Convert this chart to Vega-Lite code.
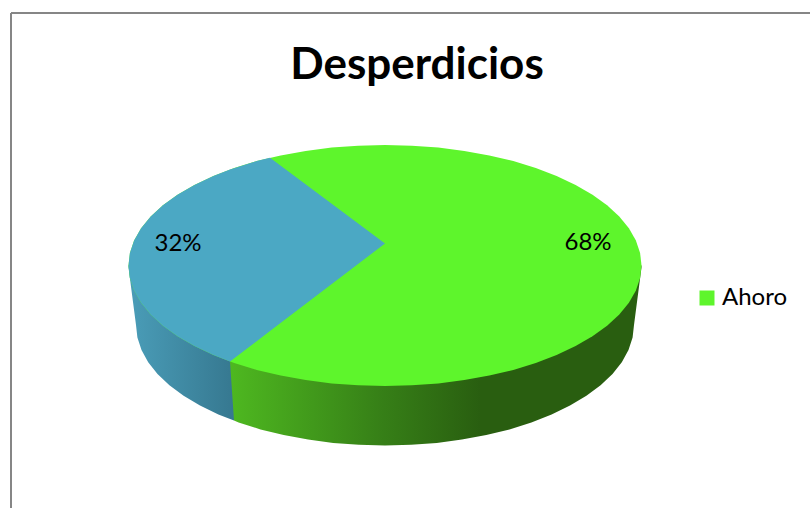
{
  "$schema": "https://vega.github.io/schema/vega-lite/v6.json",
  "width": 810,
  "height": 508,
  "padding": 0,
  "autosize": {"type": "none"},
  "background": "white",
  "view": {"stroke": null},
  "config": {"view": {"stroke": null}},
  "title": {
    "text": "Desperdicios",
    "font": "Lato",
    "fontSize": 44,
    "fontWeight": "bold",
    "color": "#000000",
    "anchor": "middle",
    "dx": 12,
    "baseline": "alphabetic",
    "offset": -123
  },
  "datasets": {
    "frame": [
      {"x": -374, "x2": -374, "y": 252.5, "y2": -242.5},
      {"x": -374, "x2": 425, "y": 252.5, "y2": 252.5}
    ],
    "wallBlue": [
      {"x": -256.5, "y": 0, "y2": -2},
      {"x": -249, "y": 0, "y2": -59.5},
      {"x": -247.6, "y": 0, "y2": -72.1},
      {"x": -243.5, "y": 0, "y2": -84.6},
      {"x": -236.8, "y": 0, "y2": -96.7},
      {"x": -227.5, "y": 0, "y2": -108.5},
      {"x": -215.6, "y": 0, "y2": -119.8},
      {"x": -201.4, "y": 0, "y2": -130.3},
      {"x": -185, "y": 0, "y2": -140.1},
      {"x": -166.6, "y": 0, "y2": -149},
      {"x": -151, "y": 0, "y2": -155}
    ],
    "wallGreen": [
      {"x": -155, "y": -96, "y2": -96},
      {"x": -151, "y": -90, "y2": -155},
      {"x": -146.4, "y": 0, "y2": -157},
      {"x": -124.5, "y": 0, "y2": -163.9},
      {"x": -101.3, "y": 0, "y2": -169.6},
      {"x": -76.9, "y": 0, "y2": -174.1},
      {"x": -51.8, "y": 0, "y2": -177.4},
      {"x": -26, "y": 0, "y2": -179.3},
      {"x": 0, "y": 0, "y2": -180},
      {"x": 26, "y": 0, "y2": -179.3},
      {"x": 51.8, "y": 0, "y2": -177.4},
      {"x": 76.9, "y": 0, "y2": -174.1},
      {"x": 101.3, "y": 0, "y2": -169.6},
      {"x": 124.5, "y": 0, "y2": -163.9},
      {"x": 146.4, "y": 0, "y2": -157},
      {"x": 166.6, "y": 0, "y2": -149},
      {"x": 185, "y": 0, "y2": -140.1},
      {"x": 201.4, "y": 0, "y2": -130.3},
      {"x": 215.6, "y": 0, "y2": -119.8},
      {"x": 227.5, "y": 0, "y2": -108.5},
      {"x": 236.8, "y": 0, "y2": -96.7},
      {"x": 243.5, "y": 0, "y2": -84.6},
      {"x": 247.6, "y": 0, "y2": -72.1},
      {"x": 249, "y": 0, "y2": -59.5},
      {"x": 256.5, "y": 0, "y2": -2}
    ],
    "disc": [
      {"x": -256.5, "y": 0, "y2": 0},
      {"x": -255.1, "y": 12.6, "y2": -12.6},
      {"x": -250.9, "y": 25.1, "y2": -25.1},
      {"x": -243.9, "y": 37.2, "y2": -37.2},
      {"x": -234.3, "y": 49, "y2": -49},
      {"x": -222.1, "y": 60.3, "y2": -60.3},
      {"x": -207.5, "y": 70.8, "y2": -70.8},
      {"x": -190.6, "y": 80.6, "y2": -80.6},
      {"x": -171.6, "y": 89.5, "y2": -89.5},
      {"x": -150.8, "y": 97.5, "y2": -97.5},
      {"x": -128.3, "y": 104.4, "y2": -104.4},
      {"x": -104.3, "y": 110.1, "y2": -110.1},
      {"x": -79.3, "y": 114.6, "y2": -114.6},
      {"x": -53.3, "y": 117.9, "y2": -117.9},
      {"x": -26.8, "y": 119.8, "y2": -119.8},
      {"x": 0, "y": 120.5, "y2": -120.5},
      {"x": 26.8, "y": 119.8, "y2": -119.8},
      {"x": 53.3, "y": 117.9, "y2": -117.9},
      {"x": 79.3, "y": 114.6, "y2": -114.6},
      {"x": 104.3, "y": 110.1, "y2": -110.1},
      {"x": 128.3, "y": 104.4, "y2": -104.4},
      {"x": 150.8, "y": 97.5, "y2": -97.5},
      {"x": 171.6, "y": 89.5, "y2": -89.5},
      {"x": 190.6, "y": 80.6, "y2": -80.6},
      {"x": 207.5, "y": 70.8, "y2": -70.8},
      {"x": 222.1, "y": 60.3, "y2": -60.3},
      {"x": 234.3, "y": 49, "y2": -49},
      {"x": 243.9, "y": 37.2, "y2": -37.2},
      {"x": 250.9, "y": 25.1, "y2": -25.1},
      {"x": 255.1, "y": 12.6, "y2": -12.6},
      {"x": 256.5, "y": 0, "y2": 0}
    ],
    "wedge": [
      {"x": -256.5, "y": 0, "y2": 0},
      {"x": -255.1, "y": 12.6, "y2": -12.6},
      {"x": -250.9, "y": 25.1, "y2": -25.1},
      {"x": -243.9, "y": 37.2, "y2": -37.2},
      {"x": -234.3, "y": 49, "y2": -49},
      {"x": -222.1, "y": 60.3, "y2": -60.3},
      {"x": -207.5, "y": 70.8, "y2": -70.8},
      {"x": -190.6, "y": 80.6, "y2": -80.6},
      {"x": -171.6, "y": 89.5, "y2": -89.5},
      {"x": -155, "y": 96, "y2": -96},
      {"x": -128.3, "y": 104.4, "y2": -75.7},
      {"x": -115, "y": 107.7, "y2": -65.5},
      {"x": 0, "y": 22, "y2": 22}
    ],
    "shares": [
      {"share": 0.32, "x": -207, "y": 14.5},
      {"share": 0.68, "x": 203, "y": 15.5}
    ]
  },
  "encoding": {
    "x": {"field": "x", "type": "quantitative", "axis": null, "scale": {"domain": [-385, 425], "nice": false, "zero": false}},
    "y": {"field": "y", "type": "quantitative", "axis": null, "scale": {"domain": [-242.5, 265.5], "nice": false, "zero": false}}
  },
  "layer": [
    {
      "data": {"name": "frame"},
      "mark": {"type": "rule", "color": "#868686", "strokeWidth": 2},
      "encoding": {"x2": {"field": "x2"}, "y2": {"field": "y2"}}
    },
    {
      "data": {"name": "wallBlue"},
      "mark": {
        "type": "area",
        "color": {
          "gradient": "linear",
          "x1": 0, "y1": 0, "x2": 1, "y2": 0,
          "stops": [
            {"offset": 0, "color": "#4a9db8"},
            {"offset": 1, "color": "#367890"}
          ]
        }
      },
      "encoding": {"y2": {"field": "y2"}}
    },
    {
      "data": {"name": "wallGreen"},
      "mark": {
        "type": "area",
        "color": {
          "gradient": "linear",
          "x1": 0, "y1": 0, "x2": 1, "y2": 0,
          "stops": [
            {"offset": 0, "color": "#4eb820"},
            {"offset": 0.37, "color": "#367f17"},
            {"offset": 0.61, "color": "#295e10"},
            {"offset": 1, "color": "#295e10"}
          ]
        }
      },
      "encoding": {"y2": {"field": "y2"}}
    },
    {
      "data": {"name": "disc"},
      "mark": {"type": "area"},
      "encoding": {
        "y2": {"field": "y2"},
        "color": {
          "datum": "Ahoro",
          "scale": {"domain": ["Ahoro"], "range": ["#5ef52c"]},
          "legend": {
            "title": null,
            "orient": "none",
            "legendX": 695,
            "legendY": 286,
            "symbolType": "square",
            "symbolSize": 225,
            "symbolStrokeWidth": 0,
            "labelFont": "Lato",
            "labelFontSize": 24,
            "labelColor": "#000000",
            "labelOffset": 3
          }
        }
      }
    },
    {
      "data": {"name": "wedge"},
      "mark": {"type": "area", "color": "#4ba8c4"},
      "encoding": {"y2": {"field": "y2"}}
    },
    {
      "data": {"name": "shares"},
      "mark": {"type": "text", "font": "Lato", "fontSize": 24, "color": "#000000", "baseline": "alphabetic", "align": "center"},
      "encoding": {"text": {"field": "share", "type": "quantitative", "format": ".0%"}}
    }
  ]
}
